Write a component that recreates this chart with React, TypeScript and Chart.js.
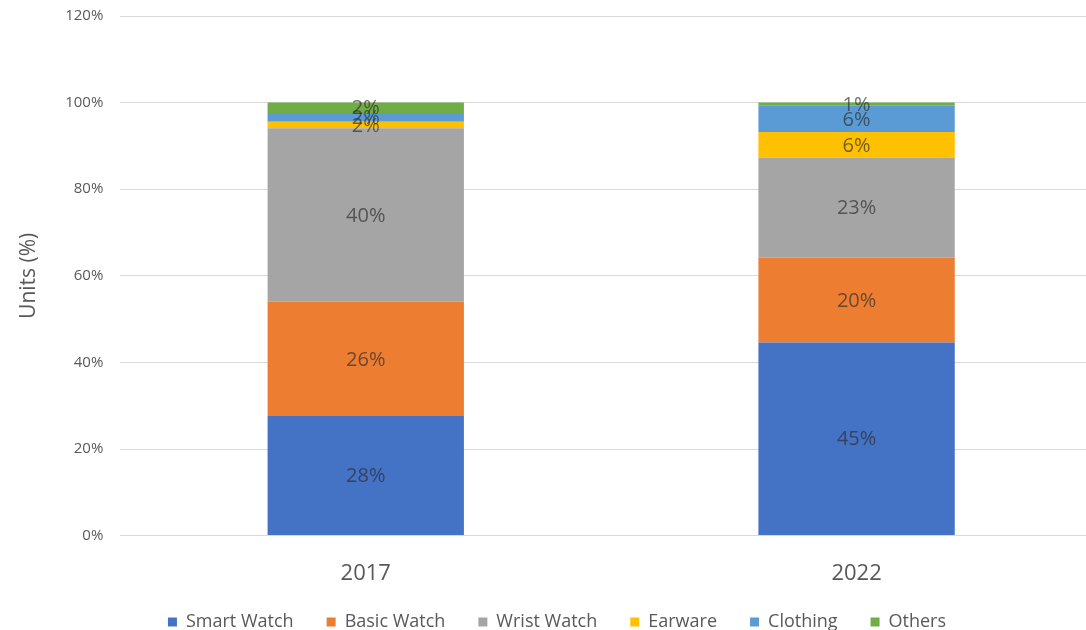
import React, { useEffect, useRef } from "react";
import { Chart, registerables } from "chart.js";

Chart.register(...registerables);

const years = ["2017", "2022"];
const smartWatch = [27.6, 44.6];
const basicWatch = [26.4, 19.6];
const wristWatch = [40.1, 23.1];
const earware = [1.5, 5.9];
const clothing = [2.0, 6.1];
const others = [2.4, 0.7];
const yTicks = [0, 20, 40, 60, 80, 100, 120];

const FONT = "'Open Sans', 'Noto Sans', sans-serif";

const labelPlugin = {
  id: "segLabels",
  afterDatasetsDraw(chart: any) {
    const ctx = chart.ctx;
    ctx.save();
    ctx.font = `20px ${FONT}`;
    ctx.textAlign = "center";
    ctx.textBaseline = "middle";
    ctx.fillStyle = "rgba(45,45,45,0.68)";
    chart.data.datasets.forEach((ds: any, i: number) => {
      const meta = chart.getDatasetMeta(i);
      meta.data.forEach((el: any, j: number) => {
        const p = el.getProps(["x", "y", "base"], true);
        const v = ds.data[j];
        ctx.fillText(Math.round(v) + "%", p.x, (p.y + p.base) / 2 + 1);
      });
    });
    ctx.restore();
  },
};

export default function App() {
  const ref = useRef<HTMLCanvasElement | null>(null);
  useEffect(() => {
    document.body.style.margin = "0";
    const mk = (label: string, data: number[], color: string) => ({
      label,
      data,
      backgroundColor: color,
      borderWidth: 0,
      barPercentage: 0.4,
      categoryPercentage: 1,
    });
    const chart = new Chart(ref.current as HTMLCanvasElement, {
      type: "bar",
      data: {
        labels: years,
        datasets: [
          mk("Smart Watch", smartWatch, "#4472C4"),
          mk("Basic Watch", basicWatch, "#ED7D31"),
          mk("Wrist Watch", wristWatch, "#A5A5A5"),
          mk("Earware", earware, "#FFC000"),
          mk("Clothing", clothing, "#5B9BD5"),
          mk("Others", others, "#70AD47"),
        ],
      },
      options: {
        animation: false,
        responsive: false,
        layout: { padding: { top: 0, left: 12, right: 0, bottom: 0 } },
        plugins: {
          tooltip: { enabled: false },
          legend: {
            position: "bottom",
            labels: {
              font: { family: FONT, size: 18 },
              color: "#595959",
              boxWidth: 9,
              boxHeight: 9,
              padding: 33,
            },
          },
        },
        scales: {
          x: {
            stacked: true,
            grid: { display: false },
            border: { display: false },
            ticks: {
              font: { family: FONT, size: 22 },
              color: "#595959",
              padding: 17,
            },
            afterFit: (axis: any) => {
              axis.height -= 24;
              axis._computeLabelArea = () => undefined;
            },
          },
          y: {
            stacked: true,
            min: 0,
            max: 120,
            afterBuildTicks: (axis: any) => {
              axis.ticks = yTicks.map((v) => ({ value: v }));
            },
            grid: { color: "#D9D9D9", drawTicks: false, lineWidth: 1 },
            border: { display: false },
            ticks: {
              font: { family: FONT, size: 15 },
              color: "#595959",
              padding: 17,
              callback: (v: any) => v + "%",
            },
            title: {
              display: true,
              text: "Units (%)",
              font: { family: FONT, size: 21 },
              color: "#595959",
              padding: { bottom: 7 },
            },
          },
        },
      },
      plugins: [labelPlugin],
    });
    return () => chart.destroy();
  }, []);
  return (
    <div style={{ position: "fixed", left: 0, top: 0, width: 1086, height: 630, overflow: "hidden", background: "#fff" }}>
      <canvas ref={ref} width={1102} height={651} style={{ display: "block", marginTop: -10 }} />
    </div>
  );
}
